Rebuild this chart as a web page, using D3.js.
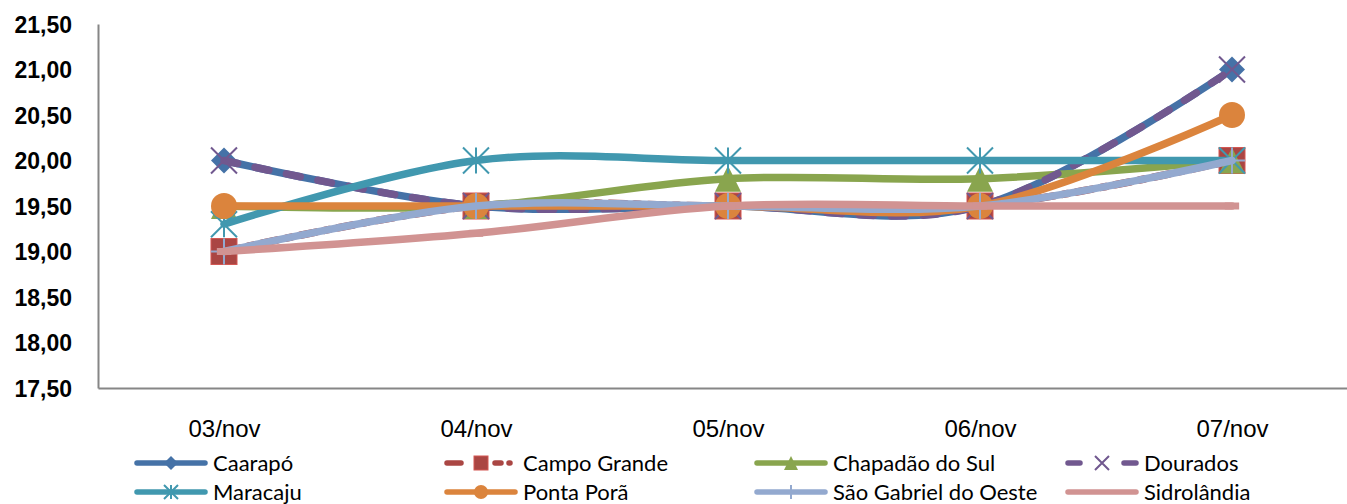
<!DOCTYPE html>
<html>
<head>
<meta charset="utf-8">
<script src="https://cdn.jsdelivr.net/npm/d3@7/dist/d3.min.js"></script>
<style>
  html, body { margin: 0; padding: 0; background: #fff; }
  svg { display: block; font-family: Lato, "Open Sans", sans-serif; }
</style>
</head>
<body>
<svg id="chart" width="1347" height="504"></svg>
<script>
// Dates on the category axis
const dates = ["03/nov", "04/nov", "05/nov", "06/nov", "07/nov"];

// One array of values per city
const caarapo        = [20.0, 19.5, 19.5, 19.5, 21.0];
const campoGrande    = [19.0, 19.5, 19.5, 19.5, 20.0];
const chapadaoDoSul  = [19.5, 19.5, 19.8, 19.8, 20.0];
const dourados       = [20.0, 19.5, 19.5, 19.5, 21.0];
const maracaju       = [19.3, 20.0, 20.0, 20.0, 20.0];
const pontaPora      = [19.5, 19.5, 19.5, 19.5, 20.5];
const saoGabriel     = [19.0, 19.5, 19.5, 19.5, 20.0];
const sidrolandia    = [19.0, 19.2, 19.5, 19.5, 19.5];

const cityNames = ["Caarapó", "Campo Grande", "Chapadão do Sul", "Dourados",
                   "Maracaju", "Ponta Porã", "São Gabriel do Oeste", "Sidrolândia"];

// Value axis ticks
const yTicks = [17.5, 18.0, 18.5, 19.0, 19.5, 20.0, 20.5, 21.0, 21.5];

const series = [
  { name: cityNames[0], values: caarapo,       color: "#4572A7", marker: "diamond",  dash: null,       legendDash: null },
  { name: cityNames[1], values: campoGrande,   color: "#AA4643", marker: "square",   dash: "16,9,5,9", legendDash: "14,34,6,8,1,100" },
  { name: cityNames[2], values: chapadaoDoSul, color: "#89A54E", marker: "triangle", dash: null,       legendDash: null },
  { name: cityNames[3], values: dourados,      color: "#71588F", marker: "x",        dash: "14,18",    legendDash: "12,44,12" },
  { name: cityNames[4], values: maracaju,      color: "#4198AF", marker: "star",     dash: null,       legendDash: null },
  { name: cityNames[5], values: pontaPora,     color: "#DB843D", marker: "circle",   dash: null,       legendDash: null },
  { name: cityNames[6], values: saoGabriel,    color: "#93A9CF", marker: "plus",     dash: null,       legendDash: null },
  { name: cityNames[7], values: sidrolandia,   color: "#D19392", marker: "dash",     dash: null,       legendDash: null }
];

const svg = d3.select("#chart");

const plot = { left: 98, right: 1358, top: 24, bottom: 388 };

const x = d3.scalePoint().domain(dates).range([plot.left, plot.right]).padding(0.5);
const y = d3.scaleLinear().domain([17.5, 21.5]).range([plot.bottom, plot.top]);

const ptBR = d3.formatLocale({ decimal: ",", thousands: ".", grouping: [3], currency: ["R$", ""] });
const fmt = ptBR.format(".2f");

// Value axis
const yAxis = svg.append("g")
  .attr("transform", `translate(${plot.left},0)`)
  .call(d3.axisLeft(y).tickValues(yTicks).tickSize(0).tickPadding(26).tickFormat(fmt));
yAxis.select(".domain").attr("stroke", "#868686").attr("stroke-width", 2);
yAxis.selectAll("text")
  .attr("fill", "#000")
  .style("font-size", "23px")
  .style("font-weight", "bold")
  .attr("dy", "0.36em");

// Category axis
const xAxis = svg.append("g")
  .attr("transform", `translate(0,${plot.bottom})`)
  .call(d3.axisBottom(x).tickSize(0).tickPadding(32));
xAxis.select(".domain").attr("stroke", "#868686").attr("stroke-width", 2);
xAxis.selectAll("text")
  .attr("fill", "#000")
  .style("font-size", "24px");

const line = d3.line()
  .x((d, i) => x(dates[i]))
  .y(d => y(d))
  .curve(d3.curveCardinal.tension(0));

// Marker drawing, centred on (0,0)
function drawMarker(g, type, color, s) {
  const h = s / 2;
  switch (type) {
    case "diamond":
      g.append("path").attr("d", `M0,${-h}L${h},0L0,${h}L${-h},0Z`).attr("fill", color);
      break;
    case "square":
      g.append("rect").attr("x", -h).attr("y", -h).attr("width", s).attr("height", s)
        .attr("fill", color).attr("stroke", d3.color(color).brighter(0.6)).attr("stroke-width", 1);
      break;
    case "triangle":
      g.append("path").attr("d", `M0,${-h}L${h},${h}L${-h},${h}Z`).attr("fill", color);
      break;
    case "circle":
      g.append("circle").attr("r", h).attr("fill", color);
      break;
    case "x":
      g.append("path").attr("d", `M${-h},${-h}L${h},${h}M${h},${-h}L${-h},${h}`)
        .attr("stroke", color).attr("stroke-width", 2).attr("fill", "none");
      break;
    case "star":
      g.append("path").attr("d", `M${-h},${-h}L${h},${h}M${h},${-h}L${-h},${h}M0,${-h}L0,${h}`)
        .attr("stroke", color).attr("stroke-width", 2).attr("fill", "none");
      break;
    case "plus":
      g.append("path").attr("d", `M${-h},0L${h},0M0,${-h}L0,${h}`)
        .attr("stroke", color).attr("stroke-width", 2).attr("fill", "none");
      break;
    case "dash":
      g.append("rect").attr("x", -h * 0.55).attr("y", -3.5).attr("width", s * 0.55).attr("height", 7)
        .attr("fill", color);
      break;
  }
}

// Lines and their markers, drawn series by series
const plotG = svg.append("g");
series.forEach(s => {
  const g = plotG.append("g");
  g.append("path")
    .attr("d", line(s.values))
    .attr("fill", "none")
    .attr("stroke", s.color)
    .attr("stroke-width", 7.5)
    .attr("stroke-linecap", "round")
    .attr("stroke-linejoin", "round")
    .attr("stroke-dasharray", s.dash);
  s.values.forEach((v, i) => {
    const m = g.append("g").attr("transform", `translate(${x(dates[i])},${y(v)})`);
    drawMarker(m, s.marker, s.color, 26);
  });
});

// Legend: 4 columns, 2 rows
const legendCols = [137, 447, 757, 1068];
const legendRows = [463, 492];
const legend = svg.append("g");
series.forEach((s, i) => {
  const lx = legendCols[i % 4];
  const ly = legendRows[Math.floor(i / 4)];
  const g = legend.append("g").attr("transform", `translate(${lx},${ly})`);
  g.append("line")
    .attr("x1", 0).attr("x2", 68).attr("y1", 0).attr("y2", 0)
    .attr("stroke", s.color).attr("stroke-width", 5.5)
    .attr("stroke-linecap", "round")
    .attr("stroke-dasharray", s.legendDash);
  if (s.marker !== "dash") {
    const m = g.append("g").attr("transform", "translate(34,0)");
    drawMarker(m, s.marker, s.color, 14);
  }
  g.append("text")
    .attr("x", 76).attr("y", 0).attr("dy", "0.36em")
    .style("font-size", "22px")
    .attr("fill", "#000")
    .text(s.name);
});
</script>
</body>
</html>
